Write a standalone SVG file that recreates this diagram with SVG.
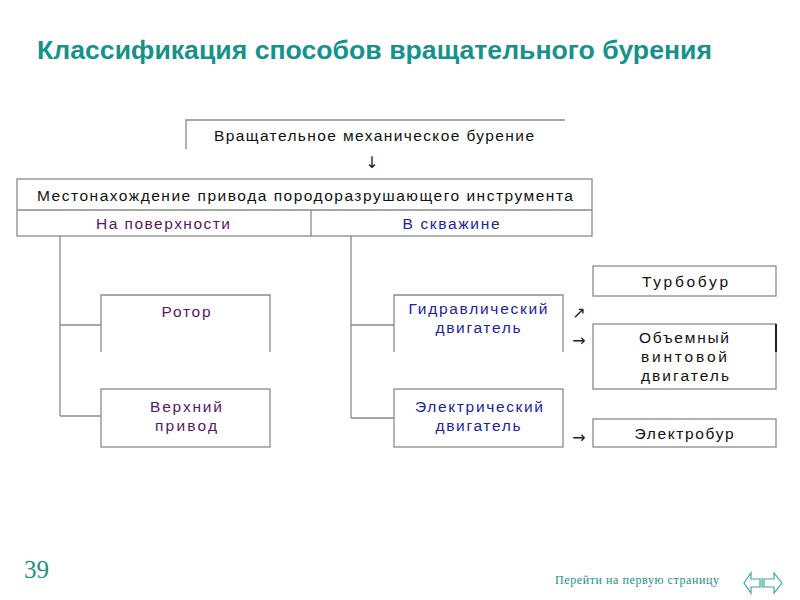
<svg xmlns="http://www.w3.org/2000/svg" width="800" height="600" viewBox="0 0 800 600">
<style>
.ln{stroke:#8a8a8a;stroke-width:1.3;fill:none}
.bx{stroke:#8a8a8a;stroke-width:1.3;fill:#fff}
.t{font-family:"Liberation Sans",Arial,sans-serif;font-size:15.5px;text-anchor:middle;fill:#111}
.p{fill:#5a1566}
.b{fill:#2222a8}
.ar{font-family:"DejaVu Sans",sans-serif;font-size:16px;fill:#222;text-anchor:middle}
.teal{fill:#16928b}
</style>
<rect width="800" height="600" fill="#fff"/>
<text x="37" y="59" class="teal" font-family="Liberation Sans,Arial,sans-serif" font-weight="bold" font-size="25.5" textLength="675" lengthAdjust="spacingAndGlyphs">Классификация способов вращательного бурения</text>

<g id="connectors">
<line class="ln" x1="60" y1="236" x2="60" y2="416"/>
<line class="ln" x1="60" y1="325" x2="101" y2="325"/>
<line class="ln" x1="60" y1="416" x2="101" y2="416"/>
<line class="ln" x1="351" y1="236" x2="351" y2="418"/>
<line class="ln" x1="351" y1="325" x2="394" y2="325"/>
<line class="ln" x1="351" y1="418" x2="394" y2="418"/>
<text class="ar" x="372" y="168">↓</text>
<text class="ar" x="579" y="318">↗</text>
<text class="ar" x="579" y="346">→</text>
<text class="ar" x="579" y="443">→</text>
</g>

<g id="n-top">
<path class="ln" d="M186 149V120H565"/>
<text class="t" x="374" y="141" textLength="320" lengthAdjust="spacing">Вращательное механическое бурение</text>
</g>

<g id="n-location">
<rect class="bx" x="17" y="179" width="575" height="57"/>
<line class="ln" x1="17" y1="210" x2="592" y2="210"/>
<line class="ln" x1="311" y1="210" x2="311" y2="236"/>
<text class="t" x="305" y="201" textLength="536" lengthAdjust="spacing">Местонахождение привода породоразрушающего инструмента</text>
<text class="t p" x="163" y="229" textLength="134" lengthAdjust="spacing">На поверхности</text>
<text class="t b" x="451" y="229" textLength="97" lengthAdjust="spacing">В скважине</text>
</g>

<g id="n-rotor">
<path class="ln" d="M101 352V295H270V352"/>
<text class="t p" x="186" y="317" textLength="49" lengthAdjust="spacing">Ротор</text>
</g>

<g id="n-topdrive">
<rect class="bx" x="101" y="389" width="169" height="58"/>
<text class="t p" x="186" y="412" textLength="72" lengthAdjust="spacing">Верхний</text>
<text class="t p" x="186" y="431" textLength="62" lengthAdjust="spacing">привод</text>
</g>

<g id="n-hydraulic">
<path class="ln" d="M394 352V295H563V352"/>
<text class="t b" x="478" y="314" textLength="139" lengthAdjust="spacing">Гидравлический</text>
<text class="t b" x="478" y="333" textLength="85" lengthAdjust="spacing">двигатель</text>
</g>

<g id="n-electric">
<rect class="bx" x="394" y="389" width="169" height="58"/>
<text class="t b" x="479" y="412" textLength="128" lengthAdjust="spacing">Электрический</text>
<text class="t b" x="478" y="431" textLength="85" lengthAdjust="spacing">двигатель</text>
</g>

<g id="n-turbo">
<rect class="bx" x="593" y="266" width="183" height="30"/>
<text class="t" x="685" y="287" textLength="86" lengthAdjust="spacing">Турбобур</text>
</g>

<g id="n-screw">
<rect class="bx" x="593" y="324" width="183" height="65"/>
<line x1="776" y1="324" x2="776" y2="352" stroke="#222" stroke-width="2"/>
<text class="t" x="684" y="343" textLength="90" lengthAdjust="spacing">Объемный</text>
<text class="t" x="684" y="362" textLength="86" lengthAdjust="spacing">винтовой</text>
<text class="t" x="685" y="381" textLength="88" lengthAdjust="spacing">двигатель</text>
</g>

<g id="n-electrobur">
<rect class="bx" x="593" y="419" width="183" height="28"/>
<text class="t" x="684" y="439" textLength="99" lengthAdjust="spacing">Электробур</text>
</g>

<text x="24" y="578" class="teal" font-family="Liberation Serif,serif" font-size="25">39</text>
<text x="555" y="584" class="teal" font-family="Liberation Serif,serif" font-size="12" textLength="164" lengthAdjust="spacing">Перейти на первую страницу</text>
<g id="nav" fill="none" stroke="#3aa8a0" stroke-width="1.2">
<path d="M744 583L751 573V579H760V587H751V593Z"/>
<path d="M782 583L774 573V579H764V587H774V593Z"/>
<line x1="762" y1="578" x2="762" y2="588"/>
</g>
</svg>
